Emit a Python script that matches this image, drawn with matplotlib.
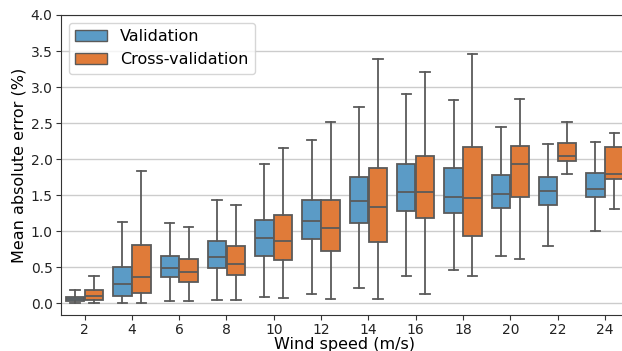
import matplotlib
matplotlib.use("Agg")
import matplotlib.pyplot as plt
from matplotlib.patches import Patch

# wind speed categories (m/s)
speeds = [2, 4, 6, 8, 10, 12, 14, 16, 18, 20, 22, 24]

# validation: whisker low, q1, median, q3, whisker high
val_lo = [0.01, 0.01, 0.04, 0.05, 0.09, 0.13, 0.22, 0.38, 0.47, 0.66, 0.79, 1.00]
val_q1 = [0.04, 0.10, 0.36, 0.49, 0.66, 0.89, 1.11, 1.28, 1.25, 1.33, 1.36, 1.47]
val_med = [0.06, 0.27, 0.49, 0.65, 0.91, 1.15, 1.42, 1.55, 1.48, 1.52, 1.56, 1.59]
val_q3 = [0.09, 0.51, 0.66, 0.87, 1.16, 1.44, 1.75, 1.93, 1.88, 1.78, 1.75, 1.81]
val_hi = [0.18, 1.13, 1.11, 1.44, 1.93, 2.27, 2.72, 2.91, 2.82, 2.45, 2.21, 2.24]

# cross-validation
cv_lo = [0.01, 0.01, 0.03, 0.05, 0.07, 0.06, 0.06, 0.13, 0.38, 0.61, 1.79, 1.31]
cv_q1 = [0.05, 0.14, 0.30, 0.40, 0.60, 0.73, 0.85, 1.18, 0.93, 1.47, 1.98, 1.72]
cv_med = [0.10, 0.36, 0.43, 0.55, 0.86, 1.04, 1.34, 1.55, 1.46, 1.94, 2.05, 1.79]
cv_q3 = [0.18, 0.81, 0.61, 0.79, 1.22, 1.44, 1.88, 2.05, 2.17, 2.19, 2.22, 2.17]
cv_hi = [0.38, 1.84, 1.06, 1.37, 2.15, 2.52, 3.39, 3.21, 3.46, 2.84, 2.52, 2.36]

blue = "#5b9bc6"
orange = "#e07b39"
edge = "#5a5a5a"


def make_stats(lo, q1, med, q3, hi):
    out = []
    for a, b, c, d, e in zip(lo, q1, med, q3, hi):
        out.append({"whislo": a, "q1": b, "med": c, "q3": d, "whishi": e, "fliers": []})
    return out


fig = plt.figure(figsize=(6.22, 3.51), dpi=100)
ax = fig.add_axes([0.098, 0.1026, 0.9125, 0.8547])

pos = list(range(len(speeds)))
line = dict(color=edge, linewidth=1.3)
for stats, off, col in [(make_stats(val_lo, val_q1, val_med, val_q3, val_hi), -0.2, blue),
                        (make_stats(cv_lo, cv_q1, cv_med, cv_q3, cv_hi), 0.2, orange)]:
    ax.bxp(stats, positions=[p + off for p in pos], widths=0.39, patch_artist=True,
           showfliers=False,
           boxprops=dict(facecolor=col, edgecolor=edge, linewidth=1.3),
           medianprops=line, whiskerprops=line, capprops=line, capwidths=0.2)

ax.set_xticks(pos)
ax.set_xticklabels([str(s) for s in speeds])
ax.set_xlim(-0.5, len(speeds) - 0.5)
ax.set_ylim(-0.16, 4.0)
ax.set_yticks([0, 0.5, 1.0, 1.5, 2.0, 2.5, 3.0, 3.5, 4.0])
ax.yaxis.grid(True, color="#cccccc", linewidth=1)
ax.set_axisbelow(True)
ax.tick_params(labelsize=10, colors="#333333", labelcolor="#222222", pad=2.5)
for s in ax.spines.values():
    s.set_color("#333333")

ax.set_xlabel("Wind speed (m/s)", fontsize=11.5, labelpad=0)
ax.set_ylabel("Mean absolute error (%)", fontsize=11.5, labelpad=3)

handles = [Patch(facecolor=blue, edgecolor=edge, label="Validation"),
           Patch(facecolor=orange, edgecolor=edge, label="Cross-validation")]
ax.legend(handles=handles, loc="upper left", fontsize=11.5, framealpha=0.8)

fig.savefig("out.png", dpi=100)
